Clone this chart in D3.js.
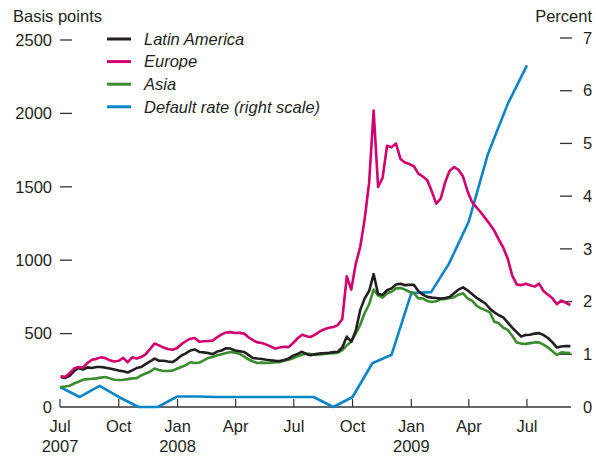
<!DOCTYPE html>

<head>
  <meta charset="utf-8">
  <script src="https://d3js.org/d3.v7.min.js"></script>
  <style>
    body { margin: 0; background: #fff; }
    text {
      font-family: "Liberation Sans", Arial, sans-serif;
      font-size: 16.5px;
      fill: #231f20;
    }
  </style>
</head>

<body>

  <svg width="596" height="460"></svg>

  <script>
    // weekly spread observations, first one on 2 Jul 2007
    const spreadStart = "2007-07-02";

    const latinAmerica = [
      205, 198, 212, 245, 265, 255, 270, 266, 272, 272, 268, 262, 255, 248, 244, 235, 250, 265, 272, 292,
      310, 330, 315, 315, 310, 306, 325, 350, 365, 385, 392, 375, 372, 368, 360, 378, 385, 400, 398, 385,
      380, 375, 355, 334, 330, 327, 322, 318, 314, 313, 320, 330, 350, 362, 376, 360, 352, 361, 365, 367,
      370, 374, 376, 405, 480, 445, 520, 660, 740, 790, 905, 770, 765, 795, 808, 835, 840, 830, 832, 832,
      790, 765, 750, 745, 742, 738, 742, 750, 775, 800, 815, 795, 770, 745, 725, 705, 670, 645, 625, 610,
      575, 540, 510, 480, 490, 492, 500, 503, 490, 470, 440, 405, 412, 415, 415
    ];

    const europe = [
      210, 205, 230, 262, 272, 268, 300, 322, 328, 338, 333, 318, 310, 315, 335, 305, 338, 330, 340, 358,
      395, 432, 420, 405, 395, 390, 400, 428, 448, 465, 470, 445, 448, 450, 452, 475, 495, 508, 510, 504,
      505, 500, 475, 455, 440, 436, 425, 412, 398, 405, 410, 408, 436, 468, 492, 482, 477, 495, 515, 530,
      540, 545, 558, 600, 890, 800, 975, 1090, 1280, 1530, 2020, 1500, 1560, 1780, 1770, 1795, 1690, 1665, 1655, 1640,
      1590, 1570, 1545, 1470, 1385, 1420, 1530, 1610, 1635, 1615, 1570, 1470, 1397, 1360, 1325, 1285, 1245, 1200, 1140, 1085,
      1010, 895, 835, 830, 840, 830, 820, 840, 790, 765, 740, 700, 725, 710, 695
    ];

    const asia = [
      136, 140, 145, 160, 172, 185, 190, 192, 195, 200, 204, 195, 186, 184, 185, 190, 195, 197, 215, 228,
      240, 262, 252, 245, 245, 248, 260, 272, 285, 305, 300, 302, 318, 334, 340, 352, 360, 368, 375, 370,
      362, 345, 325, 310, 300, 302, 300, 302, 305, 306, 315, 322, 332, 347, 355, 365, 360, 354, 358, 361,
      364, 366, 370, 388, 420, 445, 500, 560, 640, 700, 800, 760, 745, 775, 785, 808, 810, 800, 785, 775,
      740, 740, 722, 715, 720, 735, 735, 742, 748, 765, 775, 740, 725, 690, 672, 660, 645, 580, 570, 540,
      525, 485, 440, 432, 430, 435, 440, 440, 425, 405, 380, 355, 372, 370, 368
    ];

    // monthly default rate, percent (right scale)
    const defaultMonths = [
      "2007-07-01", "2007-08-01", "2007-09-01", "2007-10-01", "2007-11-01", "2007-12-01",
      "2008-01-01", "2008-02-01", "2008-03-01", "2008-04-01", "2008-05-01", "2008-06-01",
      "2008-07-01", "2008-08-01", "2008-09-01", "2008-10-01", "2008-11-01", "2008-12-01",
      "2009-01-01", "2009-02-01", "2009-03-01", "2009-04-01", "2009-05-01", "2009-06-01", "2009-07-01"
    ];
    const defaultRate = [
      0.38, 0.19, 0.40, 0.19, 0.00, 0.00,
      0.20, 0.20, 0.19, 0.19, 0.19, 0.19,
      0.19, 0.19, 0.00, 0.19, 0.83, 0.99,
      2.16, 2.18, 2.72, 3.52, 4.80, 5.75, 6.48
    ];

    const leftTicks = [0, 500, 1000, 1500, 2000, 2500];
    const rightTicks = [0, 1, 2, 3, 4, 5, 6, 7];
    const monthNames = { 0: "Jan", 3: "Apr", 6: "Jul", 9: "Oct" };

    const legendItems = [
      { name: "Latin America", color: "#231f20" },
      { name: "Europe", color: "#d0006f" },
      { name: "Asia", color: "#3b8b2f" },
      { name: "Default rate (right scale)", color: "#0a85c8" }
    ];

    const svg = d3.select("svg");
    const parse = d3.timeParse("%Y-%m-%d");

    const x = d3.scaleTime()
      .domain([parse("2007-07-01"), parse("2009-09-08")])
      .range([60, 571]);
    const yL = d3.scaleLinear().domain([0, 2500]).range([407, 40]);
    const yR = d3.scaleLinear().domain([0, 7]).range([407, 38]);

    const start = parse(spreadStart);
    const weekly = vals => vals.map((v, i) => ({ date: d3.timeDay.offset(start, 7 * i), v: v }));

    // axes ------------------------------------------------------------
    const axisColor = "#333";

    svg.append("line")
      .attr("x1", 60).attr("x2", 571)
      .attr("y1", 407).attr("y2", 407)
      .attr("stroke", axisColor).attr("stroke-width", 1.5);

    const qTicks = d3.timeMonth.every(3).range(parse("2007-07-01"), parse("2009-09-01"));
    svg.selectAll(".xtick").data(qTicks).enter().append("line")
      .attr("x1", d => x(d)).attr("x2", d => x(d))
      .attr("y1", 407).attr("y2", 399)
      .attr("stroke", axisColor).attr("stroke-width", 1.2);

    svg.selectAll(".xlab").data(qTicks).enter().append("text")
      .attr("x", d => x(d)).attr("y", 432)
      .attr("text-anchor", "middle")
      .text(d => monthNames[d.getMonth()]);

    svg.selectAll(".ylab").data(qTicks.filter((d, i) => i === 0 || d.getMonth() === 0)).enter().append("text")
      .attr("x", d => x(d)).attr("y", 452)
      .attr("text-anchor", "middle")
      .text(d => d.getFullYear());

    // left scale
    svg.selectAll(".ltick").data(leftTicks.slice(1)).enter().append("line")
      .attr("x1", 60).attr("x2", 72)
      .attr("y1", d => yL(d)).attr("y2", d => yL(d))
      .attr("stroke", axisColor).attr("stroke-width", 1.3);
    svg.selectAll(".llab").data(leftTicks).enter().append("text")
      .attr("x", 52).attr("y", d => yL(d))
      .attr("dy", "0.35em")
      .attr("text-anchor", "end")
      .text(d => d);

    // right scale
    svg.selectAll(".rtick").data(rightTicks.slice(1)).enter().append("line")
      .attr("x1", 560).attr("x2", 572)
      .attr("y1", d => yR(d)).attr("y2", d => yR(d))
      .attr("stroke", axisColor).attr("stroke-width", 1.3);
    svg.selectAll(".rlab").data(rightTicks).enter().append("text")
      .attr("x", 583).attr("y", d => yR(d))
      .attr("dy", "0.35em")
      .text(d => d);

    svg.append("text").attr("x", 13).attr("y", 22).text("Basis points");
    svg.append("text").attr("x", 592).attr("y", 22).attr("text-anchor", "end").text("Percent");

    // lines -----------------------------------------------------------
    const lineL = d3.line().x(d => x(d.date)).y(d => yL(d.v));
    const lineR = d3.line().x(d => x(d.date)).y(d => yR(d.v));

    const draw = (data, gen, color) => svg.append("path")
      .datum(data)
      .attr("d", gen)
      .attr("fill", "none")
      .attr("stroke", color)
      .attr("stroke-width", 2.6)
      .attr("stroke-linejoin", "round");

    draw(defaultMonths.map((m, i) => ({ date: parse(m), v: defaultRate[i] })), lineR, legendItems[3].color);
    draw(weekly(asia), lineL, legendItems[2].color);
    draw(weekly(latinAmerica), lineL, legendItems[0].color);
    draw(weekly(europe), lineL, legendItems[1].color);

    // legend ----------------------------------------------------------
    const leg = svg.selectAll(".leg").data(legendItems).enter().append("g")
      .attr("transform", (d, i) => `translate(0,${39 + i * 22.6})`);
    leg.append("line")
      .attr("x1", 107).attr("x2", 131)
      .attr("stroke", d => d.color).attr("stroke-width", 3);
    leg.append("text")
      .attr("x", 144).attr("dy", "0.35em")
      .style("font-style", "italic")
      .text(d => d.name);
  </script>
</body>
